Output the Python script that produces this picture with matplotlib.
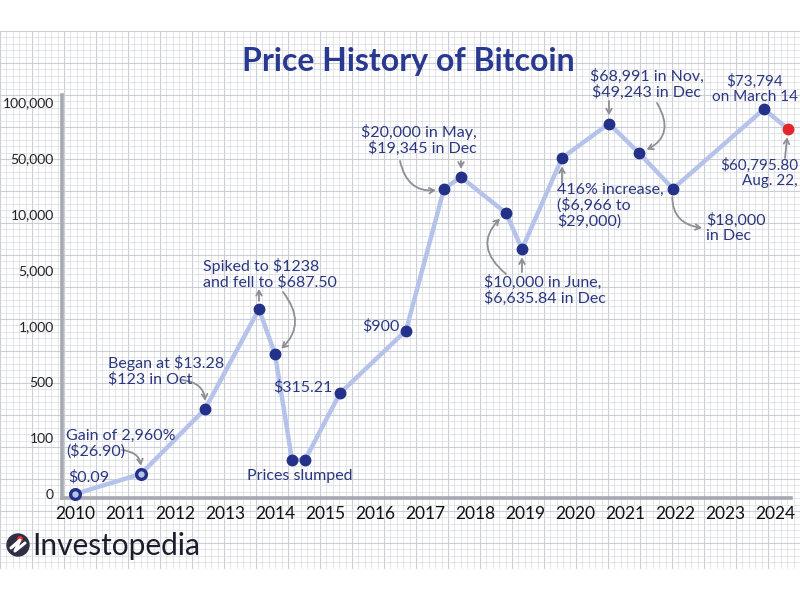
import numpy as np
import matplotlib.pyplot as plt
from matplotlib.patches import Circle

plt.rcParams['font.family'] = ['Lato', 'DejaVu Sans']

# tick values of the stretched y axis (equally spaced on the chart)
tick_vals = [0, 100, 500, 1000, 5000, 10000, 50000, 100000]
tick_text = ['0', '100', '500', '1,000', '5,000', '10,000', '50,000', '100,000']
years = list(range(2010, 2025))

# points as placed on the infographic (x in years, y in dollars)
pt_x = [2010.0, 2011.32, 2012.6, 2013.68, 2014.0, 2014.34, 2014.6, 2015.3,
        2016.62, 2017.38, 2017.72, 2018.62, 2018.94, 2019.74, 2020.68,
        2021.28, 2021.96, 2023.78, 2024.26]
pt_y = [0.09, 36, 307, 2200, 750, 61, 61, 420,
        960, 28000, 36400, 10700, 6875, 50000, 80700,
        54500, 28000, 93750, 75900]

NAVY = '#233189'
TXT = '#2b3880'
LINE = '#b5c3ea'
ARW = '#8e8f94'
RED = '#e3262c'

ext_vals = np.array([-1000] + tick_vals + [200000], dtype=float)
ext_pos = np.array([-10] + list(range(len(tick_vals))) + [9], dtype=float)

def fwd(v):
    return np.interp(v, ext_vals, ext_pos)

def inv(p):
    return np.interp(p, ext_pos, ext_vals)

W, H = 800, 600
fig = plt.figure(figsize=(8, 6), dpi=100)
fig.patch.set_facecolor('white')

def px(x, y):
    return (x / W, 1 - y / H)

# graph paper background
bg = fig.add_axes([0, 1 - 569 / H, 1, (569 - 31) / H])
bg.set_xlim(0, W)
bg.set_ylim(569, 31)
bg.set_facecolor('#e8e9ee')
for i, x in enumerate(np.arange(0, W, 6.4)):
    bg.axvline(x, color='#d9dbe2' if i % 5 else '#ccced7', lw=0.5 if i % 5 else 0.8)
for i, y in enumerate(np.arange(31, 569, 6.4)):
    bg.axhline(y, color='#d9dbe2' if i % 5 else '#ccced7', lw=0.5 if i % 5 else 0.8)
bg.axis('off')

ax = fig.add_axes([62 / W, 1 - 498 / H, 729 / W, 403 / H])
ax.patch.set_alpha(0)
ax.set_yscale('function', functions=(fwd, inv))
ax.set_xlim(2009.74, 2024.32)
ax.set_ylim(inv(-0.07), inv(7.125))

ax.plot(pt_x, pt_y, color=LINE, lw=3.2, solid_joinstyle='round', zorder=2,
        clip_on=False)
ax.plot(pt_x[2:-1], pt_y[2:-1], 'o', color=NAVY, ms=7.5, zorder=3, clip_on=False)
ax.plot(pt_x[:2], pt_y[:2], 'o', mfc=LINE, mec=NAVY, mew=2.4, ms=7, zorder=3,
        clip_on=False)
ax.plot(pt_x[-1:], pt_y[-1:], 'o', color=RED, ms=7.5, zorder=3, clip_on=False)

ax.set_yticks(tick_vals)
ax.set_yticklabels(tick_text)
ax.set_xticks(years)
ax.set_xticklabels([str(y) for y in years])
ax.minorticks_off()
ax.tick_params(length=0)
ax.tick_params(axis='y', pad=6, labelsize=10, labelcolor='#222222')
ax.tick_params(axis='x', pad=6, labelsize=12.5, labelcolor='#111111')
for s in ['top', 'right']:
    ax.spines[s].set_visible(False)
for s in ['left', 'bottom']:
    ax.spines[s].set_color('#a6a9b1')
    ax.spines[s].set_linewidth(2.6)

fig.text(*px(408, 62), 'Price History of Bitcoin', ha='center', va='center',
         fontsize=23, fontweight='bold', color='#2a3990')

def note(x, y, s, ha='left', va='center', size=11.5):
    fig.text(*px(x, y), s, ha=ha, va=va, fontsize=size, color=TXT,
             linespacing=1.05)

note(68, 477, '$0.09')
note(66, 444, 'Gain of 2,960%\n($26.90)')
note(108, 371, 'Began at $13.28\n$123 in Oct')
note(203, 274, 'Spiked to $1238\nand fell to $687.50')
note(333, 387, '$315.21', ha='right')
note(300, 476, 'Prices slumped', ha='center')
note(400, 326, '$900', ha='right')
note(477, 140, '$20,000 in May,\n$19,345 in Dec', ha='right')
note(484, 290, '$10,000 in June,\n$6,635.84 in Dec')
note(557, 206, '416% increase,\n($6,966 to\n$29,000)')
note(647, 84, '$68,991 in Nov,\n$49,243 in Dec', ha='center')
note(706, 228, '$18,000\nin Dec')
note(755, 89, '$73,794\non March 14', ha='center', size=11)
note(798, 173, '$60,795.80\nAug. 22,', ha='right', size=11)

def arrow_to_pt(i, start, rad=0.0):
    ax.annotate('', xy=(pt_x[i], pt_y[i]), xycoords='data',
                xytext=px(*start), textcoords='figure fraction',
                arrowprops=dict(arrowstyle='->,head_length=0.35,head_width=0.2',
                                color=ARW, lw=1.3, shrinkA=0, shrinkB=6,
                                connectionstyle=f'arc3,rad={rad}'))

def arrow_from_pt(i, end, rad=0.0):
    ax.annotate('', xy=px(*end), xycoords='figure fraction',
                xytext=(pt_x[i], pt_y[i]), textcoords='data',
                arrowprops=dict(arrowstyle='->,head_length=0.35,head_width=0.2',
                                color=ARW, lw=1.3, shrinkA=6, shrinkB=0,
                                connectionstyle=f'arc3,rad={rad}'))

arrow_to_pt(1, (122, 450), rad=-0.5)
arrow_to_pt(2, (182, 380), rad=-0.5)
arrow_from_pt(3, (259, 289))
arrow_to_pt(4, (283, 292), rad=-0.5)
arrow_to_pt(10, (461, 161))
arrow_to_pt(9, (400, 161), rad=0.5)
arrow_to_pt(12, (522, 272))
arrow_to_pt(11, (506, 274), rad=-0.6)
arrow_to_pt(13, (562, 184))
arrow_to_pt(14, (609, 101))
arrow_to_pt(15, (657, 103), rad=-0.6)
arrow_from_pt(16, (702, 228), rad=0.5)
arrow_to_pt(18, (785, 158))

# logo
lg = fig.add_axes([0, 0, 1, 1])
lg.set_xlim(0, W)
lg.set_ylim(H, 0)
lg.axis('off')
lg.add_patch(Circle((18, 545), 11, color='#2d2f45'))
lg.plot([11, 20, 15, 25], [548, 540, 551, 543], color='white', lw=2.2,
        solid_capstyle='round')
lg.add_patch(Circle((20, 539), 2.3, color=RED))
lg.text(32, 546, 'Investopedia', ha='left', va='center', fontsize=21.5,
        color='#1c1d2c')

fig.savefig('out.png', dpi=100)
